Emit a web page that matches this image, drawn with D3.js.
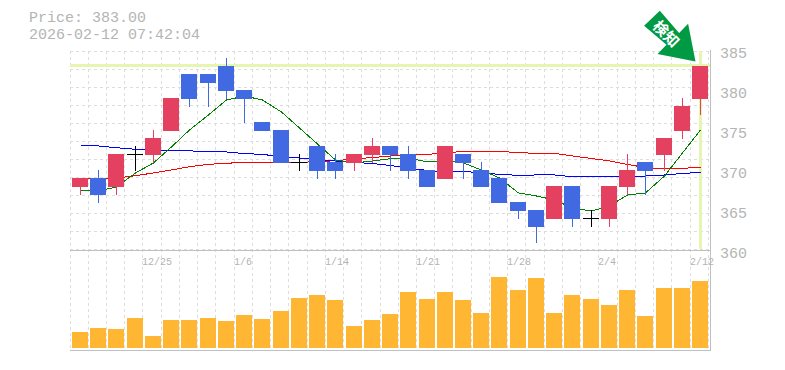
<!DOCTYPE html>
<html>
<head>
<meta charset="utf-8">
<script src="https://cdn.jsdelivr.net/npm/d3@7"></script>
<style>
  html, body { margin: 0; padding: 0; background: #fff; }
  svg { display: block; }
  text { font-family: "Liberation Mono", monospace; fill: #b4b4b4; }
</style>
</head>
<body>
<div id="chart"></div>
<script>
// candle values, oldest first
const opens = [368,369,368,372,372,375,382,382,383,380,376,375,371,373,371,371,372,373,372,370,369,372,370,369,366,365,364,368,364,364,368,371,372,375,379];
const closes = [369,367,372,372,374,379,379,381,380,379,375,371,371,370,370,372,373,372,370,368,373,371,368,366,365,363,368,364,364,368,370,370,374,378,383];
const highs = [369,370,372,373,375,379,382,382,384,380,376,375,372,373,372,372,374,373,373,370,373,372,371,369,366,365,368,368,365,368,372,371,374,379,383];
const lows = [367,366,367,370,371,375,378,378,379,376,375,371,370,369,369,370,371,370,369,368,369,369,368,366,364,361,364,363,363,363,367,367,370,374,377];

const volumes = [16,20,19,30,12,28,28,30,27,33,29,37,50,53,48,22,28,34,56,49,56,48,35,71,58,70,35,53,49,43,58,32,60,60,67];

// moving averages
const maShort = [367.5,367.38,367.88,369.63,370.88,372.88,375,376.88,378.75,379.25,378.75,377.25,375.25,373.25,371.25,370.88,371.13,371.41,371.5,371,371.13,370.88,370,369,367.13,366.75,366.25,365.25,364.88,365.5,366.88,367.13,369.25,372.13,375];
const maMid = [369,368.94,369,369.29,369.63,370,370.41,370.71,370.84,370.96,370.96,370.94,370.96,371.04,371.16,371.38,371.56,371.75,371.88,371.96,372.13,372.34,372.34,372.34,372.16,372.09,372.09,371.75,371.44,371.13,370.69,370.31,370.13,370.21,370.34];
const maLong = [373.13,373,372.79,372.59,372.53,372.44,372.38,372.35,372.25,372.06,371.94,371.69,371.5,371.31,371.13,370.94,370.81,370.56,370.25,369.94,369.79,369.79,369.69,369.44,369.34,369.38,369.38,369.16,369.16,369.16,369.16,369.25,369.38,369.56,369.71];

const priceTicks = [360,365,370,375,380,385];
const dateLabels = [[4,"12/25"],[9,"1/6"],[14,"1/14"],[19,"1/21"],[24,"1/28"],[29,"2/4"],[34,"2/12"]];
const lastPrice = 383;
const title1 = "Price: 383.00";
const title2 = "2026-02-12 07:42:04";
const arrowLabel = "検知";

const width = 785, height = 370;
const left = 70, right = 710, priceTop = 50, priceBottom = 250, volBottom = 350;
const barW = 16;

const svg = d3.select("#chart").append("svg")
  .attr("width", width)
  .attr("height", height);

const idx = d3.range(opens.length);

// columns snap to whole pixels like the original
const xStep = d3.scaleLinear().domain([0, idx.length]).range([left, 708.3]);
const xGrid = (i) => Math.floor(xStep(i));
const xMid = (i) => Math.round(xStep(i)) + 2 + barW / 2;

const y = d3.scaleLinear().domain([360, 385]).range([priceBottom, priceTop]);
const yVol = d3.scaleLinear().domain([0, 100]).range([348, 248]);
const yGrid = d3.scaleLinear().domain([0, 11]).range([51, 249]);

// GRID
const grid = svg.append("g")
  .attr("stroke", "#ddd")
  .attr("stroke-dasharray", "3,3")
  .attr("shape-rendering", "crispEdges");
grid.selectAll(".gv")
  .data(d3.range(idx.length + 1))
  .enter()
  .append("line")
  .attr("x1", (i) => xGrid(i) + 0.5)
  .attr("x2", (i) => xGrid(i) + 0.5)
  .attr("y1", priceTop + 1)
  .attr("y2", volBottom);
grid.selectAll(".gh")
  .data(d3.range(12))
  .enter()
  .append("line")
  .attr("x1", left)
  .attr("x2", right)
  .attr("y1", (d) => Math.round(yGrid(d)) + 0.5)
  .attr("y2", (d) => Math.round(yGrid(d)) + 0.5);

// current price cross
svg.append("rect")
  .attr("x", left)
  .attr("width", right - left)
  .attr("y", y(lastPrice) - 2)
  .attr("height", 3)
  .attr("fill", "#e6f5b0");
svg.append("rect")
  .attr("x", xMid(idx.length - 1) - 1)
  .attr("width", 3)
  .attr("y", priceTop + 1)
  .attr("height", 198)
  .attr("fill", "#e6f5b0");

// MOVING AVERAGES
const line = d3.line()
  .x((d, i) => xMid(i) + 0.5)
  .y((d) => y(d));
[[maMid, "#ff0000"], [maLong, "#0000ff"], [maShort, "#008000"]].forEach((m) => {
  svg.append("path")
    .datum(m[0])
    .attr("d", line)
    .attr("fill", "none")
    .attr("stroke", m[1])
    .attr("stroke-width", 1)
    .attr("shape-rendering", "crispEdges");
});

// CANDLES
const candleColor = (i) =>
  closes[i] > opens[i] ? "#e4405f" : closes[i] < opens[i] ? "#4169e1" : "#000";
const candles = svg.append("g").attr("shape-rendering", "crispEdges");
candles.selectAll(".wick")
  .data(idx)
  .enter()
  .append("rect")
  .attr("x", (i) => xMid(i))
  .attr("width", 1)
  .attr("y", (i) => y(highs[i]))
  .attr("height", (i) => y(lows[i]) - y(highs[i]) + 1)
  .attr("fill", candleColor);
candles.selectAll(".body")
  .data(idx)
  .enter()
  .append("rect")
  .attr("x", (i) => xMid(i) - barW / 2)
  .attr("width", barW)
  .attr("y", (i) => y(Math.max(opens[i], closes[i])))
  .attr("height", (i) => Math.abs(y(opens[i]) - y(closes[i])) + 1)
  .attr("fill", candleColor);

// VOLUME
svg.append("g")
  .attr("shape-rendering", "crispEdges")
  .selectAll("rect")
  .data(volumes)
  .enter()
  .append("rect")
  .attr("x", (d, i) => xMid(i) - barW / 2)
  .attr("width", barW)
  .attr("y", (d) => yVol(d))
  .attr("height", (d) => yVol(0) - yVol(d))
  .attr("fill", "#ffb733");

// FRAME
const frame = svg.append("g")
  .attr("stroke", "#c0c0c0")
  .attr("stroke-width", 1)
  .attr("shape-rendering", "crispEdges");
frame.append("line").attr("x1", left).attr("x2", right + 1).attr("y1", priceBottom + 0.5).attr("y2", priceBottom + 0.5);
frame.append("line").attr("x1", left).attr("x2", right + 1).attr("y1", volBottom + 0.5).attr("y2", volBottom + 0.5);
frame.append("line").attr("x1", right + 0.5).attr("x2", right + 0.5).attr("y1", priceTop).attr("y2", volBottom);

// LABELS
svg.selectAll(".price-label")
  .data(priceTicks)
  .enter()
  .append("text")
  .attr("x", 720)
  .attr("y", (d) => y(d) + 8)
  .attr("font-size", 15)
  .text((d) => d);

svg.selectAll(".date-label")
  .data(dateLabels)
  .enter()
  .append("text")
  .attr("x", (d) => xGrid(d[0]))
  .attr("y", 265)
  .attr("font-size", 10)
  .text((d) => d[1]);

// title rows, a little wider apart so the line boxes do not touch
svg.append("text").attr("x", 29).attr("y", 22).attr("font-size", 15).text(title1);
svg.append("text").attr("x", 29).attr("y", 39).attr("font-size", 15).text(title2);

// ARROW, tip sits just above the last candle
const tipX = xMid(idx.length - 1) - 4.5;
const tipY = y(lastPrice) - 4.5;
const arrow = svg.append("g").attr("transform", "translate(" + tipX + "," + tipY + ")");
arrow.append("polygon")
  .attr("points", "-35.7,-50.7 -51.4,-35.7 -29,-16.7 -38,-7.4 0,0 -7.4,-37.7 -16.4,-28.4")
  .attr("fill", "#009944");
arrow.append("text")
  .attr("transform", "translate(-29.5,-27.5) rotate(45)")
  .attr("text-anchor", "middle")
  .attr("dy", "0.35em")
  .attr("font-size", 15)
  .attr("font-weight", "bold")
  .style("font-family", '"Noto Sans CJK JP"')
  .style("fill", "#fff")
  .text(arrowLabel);
</script>
</body>
</html>
